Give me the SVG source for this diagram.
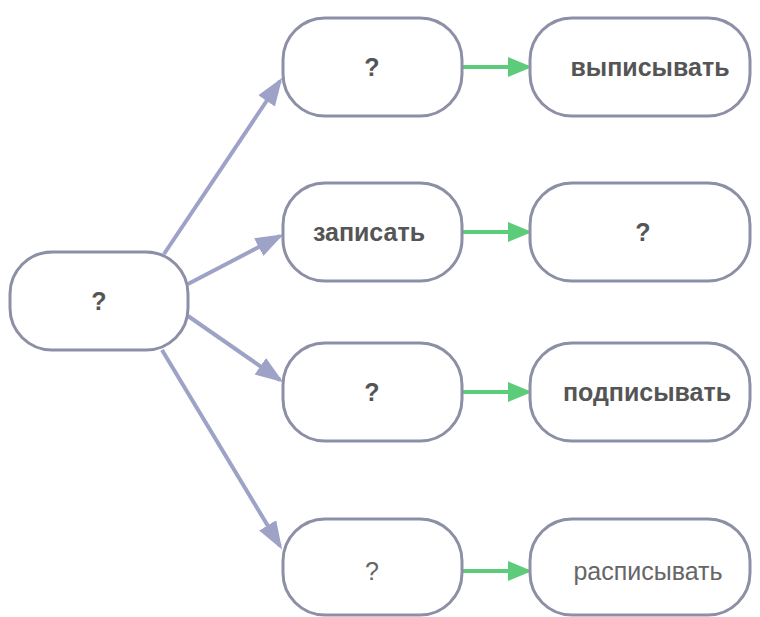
<svg xmlns="http://www.w3.org/2000/svg" width="760" height="617" viewBox="0 0 760 617">
<style>
.n{fill:#fff;stroke:#8c8fa6;stroke-width:3}
.t{font-family:"Liberation Sans",Arial,sans-serif;font-size:25px;font-weight:bold;fill:#555;text-anchor:middle;dominant-baseline:central}
.l{font-weight:normal;fill:#666}
.b{stroke:#9ea2c6;stroke-width:4;fill:none}
.g{stroke:#5ccb7a;stroke-width:4;fill:none}
</style>
<defs>
<marker id="ab" markerWidth="7" markerHeight="6" refX="6" refY="3" orient="auto" markerUnits="strokeWidth"><path d="M0,0.5 L7,3 L0,5.5 Z" fill="#9ea2c6"/></marker>
<marker id="ag" markerWidth="6" markerHeight="6" refX="5" refY="3" orient="auto" markerUnits="strokeWidth"><path d="M0,0.5 L6,3 L0,5.5 Z" fill="#5ccb7a"/></marker>
</defs>
<g id="connectors">
<line class="b" x1="164" y1="254" x2="280" y2="81" marker-end="url(#ab)"/>
<line class="b" x1="188" y1="284" x2="280" y2="236" marker-end="url(#ab)"/>
<line class="b" x1="188" y1="316" x2="280" y2="380" marker-end="url(#ab)"/>
<line class="b" x1="162" y1="350" x2="280" y2="546" marker-end="url(#ab)"/>
<line class="g" x1="462" y1="67" x2="528" y2="67" marker-end="url(#ag)"/>
<line class="g" x1="462" y1="232" x2="528" y2="232" marker-end="url(#ag)"/>
<line class="g" x1="462" y1="392" x2="528" y2="392" marker-end="url(#ag)"/>
<line class="g" x1="462" y1="571" x2="528" y2="571" marker-end="url(#ag)"/>
</g>
<g id="root"><rect class="n" x="10" y="252" width="178" height="98" rx="42"/><text class="t" x="99" y="301">?</text></g>
<g id="m1"><rect class="n" x="283" y="18" width="179" height="98" rx="42"/><text class="t" x="372" y="67">?</text></g>
<g id="m2"><rect class="n" x="283" y="183" width="179" height="98" rx="42"/><text class="t" x="369" y="232">записать</text></g>
<g id="m3"><rect class="n" x="283" y="343" width="179" height="98" rx="42"/><text class="t" x="372" y="392">?</text></g>
<g id="m4"><rect class="n" x="283" y="519" width="179" height="96" rx="42"/><text class="t l" x="372" y="571">?</text></g>
<g id="r1"><rect class="n" x="530" y="18" width="220" height="98" rx="42"/><text class="t" x="650" y="67">выписывать</text></g>
<g id="r2"><rect class="n" x="530" y="183" width="220" height="98" rx="42"/><text class="t" x="643" y="232">?</text></g>
<g id="r3"><rect class="n" x="530" y="343" width="220" height="98" rx="42"/><text class="t" x="647" y="392">подписывать</text></g>
<g id="r4"><rect class="n" x="530" y="519" width="220" height="96" rx="42"/><text class="t l" x="648" y="571">расписывать</text></g>
</svg>
